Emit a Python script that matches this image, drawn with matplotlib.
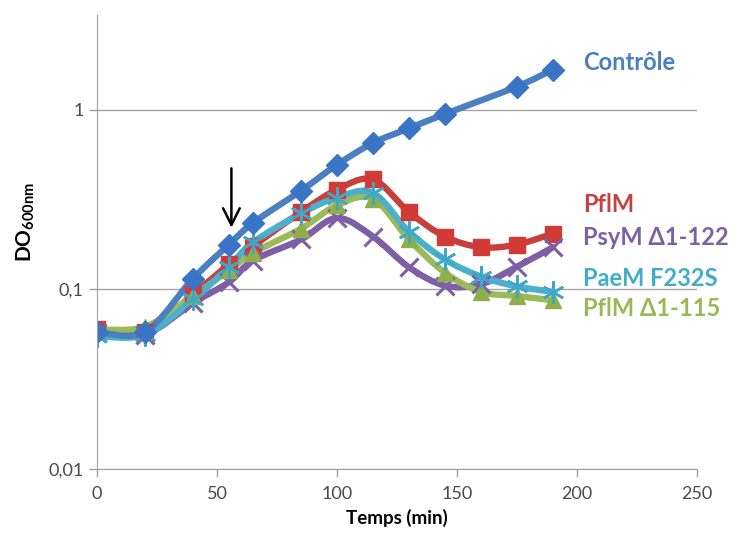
import numpy as np
import matplotlib
matplotlib.use('Agg')
import matplotlib.pyplot as plt
from matplotlib.path import Path
from matplotlib.patches import PathPatch

plt.rcParams['font.family'] = ['Lato', 'DejaVu Sans']
plt.rcParams['mathtext.fontset'] = 'custom'
plt.rcParams['mathtext.rm'] = 'Lato'
plt.rcParams['mathtext.bf'] = 'Lato:bold'

# data
x_ctrl = [0, 20, 40, 55, 65, 85, 100, 115, 130, 145, 175, 190]
controle = [0.058, 0.058, 0.115, 0.178, 0.235, 0.355, 0.495, 0.655, 0.79, 0.95, 1.35, 1.68]

x_time = [0, 20, 40, 55, 65, 85, 100, 115, 130, 145, 160, 175, 190]
pflm = [0.06, 0.058, 0.094, 0.138, 0.174, 0.27, 0.36, 0.41, 0.27, 0.197, 0.172, 0.178, 0.205]
psym = [0.057, 0.056, 0.084, 0.11, 0.145, 0.19, 0.25, 0.197, 0.133, 0.105, 0.107, 0.134, 0.172]
paem = [0.055, 0.056, 0.088, 0.134, 0.183, 0.265, 0.325, 0.345, 0.21, 0.147, 0.118, 0.104, 0.097]
pflm115 = [0.06, 0.062, 0.092, 0.128, 0.16, 0.218, 0.295, 0.32, 0.19, 0.124, 0.097, 0.092, 0.087]

names = ['Contrôle', 'PflM', 'PsyM Δ1-122', 'PaeM F232S', 'PflM Δ1-115']
label_y = [62, 205, 238, 278, 308]  # pixel rows of the right-hand labels
arrow_x = 56
arrow_from, arrow_to = 0.49, 0.213


def smooth_path(xs, ys):
    # Excel-like smoothed line: cubic bezier through points, in (x, log y) space
    p = np.column_stack([xs, np.log10(ys)])
    n = len(p)
    verts = [p[0]]
    codes = [Path.MOVETO]
    for i in range(n - 1):
        p0 = p[i - 1] if i > 0 else p[i]
        p1 = p[i]
        p2 = p[i + 1]
        p3 = p[i + 2] if i + 2 < n else p[i + 1]
        c1 = p1 + (p2 - p0) / 6
        c2 = p2 - (p3 - p1) / 6
        verts += [c1, c2, p2]
        codes += [Path.CURVE4] * 3
    verts = np.array(verts)
    verts[:, 1] = 10 ** verts[:, 1]
    return Path(verts, codes)


fig = plt.figure(figsize=(7.52, 5.33), dpi=100)
ax = fig.add_axes([97 / 752, 1 - 469 / 533, 600 / 752, 454 / 533])
ax.set_yscale('log')

series = [
    (x_time, pflm, '#C8403C', '#D23B35', 's', 11, 1.0),
    (x_time, psym, '#7E5FA6', '#7E5FA6', 'x', 13, 2.2),
    (x_time, pflm115, '#9BBB59', '#8DB04A', '^', 12, 1.0),
    (x_time, paem, '#4BB0CC', '#3FA8C8', (6, 2, 0), 16, 1.8),
    (x_ctrl, controle, '#4A7FC1', '#3A74C4', 'D', 11, 1.0),
]
for xs, ys, lc, mc, mk, ms, mew in series:
    ax.add_patch(PathPatch(smooth_path(xs, ys), fill=False, edgecolor=lc,
                           lw=4.6, capstyle='round', joinstyle='round'))
    ax.plot(xs, ys, linestyle='none', marker=mk, markersize=ms,
            color=mc, markeredgecolor=mc, markeredgewidth=mew)

ax.set_xlim(0, 250)
ax.set_ylim(0.01, 3.38)
ax.set_xticks([0, 50, 100, 150, 200, 250])
ax.set_yticks([0.01, 0.1, 1])
ax.set_yticklabels(['0,01', '0,1', '1'])
ax.yaxis.set_minor_locator(matplotlib.ticker.NullLocator())
ax.tick_params(axis='both', colors='#a0a0a0', labelcolor='#4a4a4a',
               labelsize=13, length=6, width=1)
ax.tick_params(axis='x', pad=6)
ax.grid(axis='y', color='#a6a6a6', lw=1)
ax.set_axisbelow(True)
for s in ['top', 'right']:
    ax.spines[s].set_visible(False)
for s in ['left', 'bottom']:
    ax.spines[s].set_color('#a0a0a0')

ax.set_xlabel('Temps (min)', fontsize=13.5, fontweight='bold', labelpad=5)
ax.set_ylabel(r'DO$_{\mathbf{600nm}}$', fontsize=15, fontweight='bold')
ax.yaxis.set_label_coords(-0.10, 0.545)

ax.annotate('', xy=(arrow_x, arrow_to), xytext=(arrow_x, arrow_from),
            arrowprops=dict(arrowstyle='->', lw=1.8, color='black', mutation_scale=30))

label_colors = ['#4A7EC0', '#C9413E', '#7F5FA6', '#41ADC8', '#98B954']
for name, yp, c in zip(names, label_y, label_colors):
    fig.text(583 / 752, 1 - yp / 533, name, color=c, fontsize=17,
             fontweight='bold', va='center', ha='left')

fig.savefig('out.png', dpi=100)
